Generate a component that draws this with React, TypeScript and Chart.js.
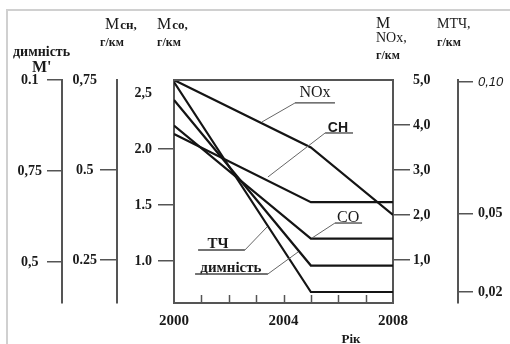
import React, { useEffect, useRef } from "react";
import { Chart, registerables } from "chart.js";

Chart.register(...registerables);

// ---------------- data ----------------
const years = [2000, 2005, 2008];
const noxValues = [5.0, 3.5, 2.0]; // M NOx, г/км
const chValues = [0.6, 0.411, 0.411]; // Mсн, г/км
const coValues = [2.21, 1.2, 1.2]; // Mco, г/км
const pmValues = [0.1, 0.02, 0.02]; // MТЧ, г/км
const smokeValues = [0.945, 0.49, 0.49]; // димність M'

const xLabelStep = 4;
const xMinorYears = [2001, 2002, 2003, 2004, 2005, 2006, 2007];

const smokeTicks = [0.5, 0.75, 1.0];
const smokeTickLabels = ["0,5", "0,75", "0.1"];
const chTicks = [0.25, 0.5, 0.75];
const chTickLabels = ["0.25", "0.5", "0,75"];
const coTicks = [1.0, 1.5, 2.0, 2.5];
const coTickLabels = ["1.0", "1.5", "2.0", "2,5"];
const noxTicks = [1, 2, 3, 4, 5];
const noxTickLabels = ["1,0", "2,0", "3,0", "4,0", "5,0"];
const pmTicks = [0.02, 0.05, 0.1];
const pmTickLabels = ["0,02", "0,05", "0,10"];

const SERIF = '"Liberation Serif", "DejaVu Serif", serif';
const SANS = '"Liberation Sans", "DejaVu Sans", sans-serif';

// series callouts, anchored in (year, Mco) data units
const callouts = [
  { text: "NOx", font: `16px ${SERIF}`, tx: 2005.15, ty: 2.5, u1: 2004.42, u2: 2005.88, uy: 2.411, end: "u1", lx: 2003.21, ly: 2.241 },
  { text: "CH", font: `bold 14px ${SANS}`, tx: 2005.99, ty: 2.187, u1: 2005.52, u2: 2006.54, uy: 2.143, end: "u1", lx: 2003.43, ly: 1.75 },
  { text: "CO", font: `16px ${SERIF}`, tx: 2006.36, ty: 1.384, u1: 2005.88, u2: 2006.87, uy: 1.339, end: "u1", lx: 2005.04, ly: 1.205 },
  { text: "ТЧ", font: `bold 15px ${SERIF}`, tx: 2001.61, ty: 1.152, u1: 2000.88, u2: 2002.59, uy: 1.098, end: "u2", lx: 2003.4, ly: 1.304 },
  { text: "димність", font: `bold 15px ${SERIF}`, tx: 2002.08, ty: 0.937, u1: 2000.77, u2: 2003.43, uy: 0.884, end: "u2", lx: 2004.53, ly: 1.08 },
];

const AXIS = "#555";

function yAxis(o: any) {
  return {
    type: "linear",
    position: o.position,
    weight: o.weight,
    min: o.min,
    max: o.max,
    afterBuildTicks: (s: any) => {
      s.ticks = o.ticks.map((v: number) => ({ value: v }));
    },
    afterFit: (s: any) => {
      s.width = o.width;
    },
    grid: {
      drawOnChartArea: false,
      drawTicks: true,
      tickLength: o.tickLength,
      lineWidth: 1.5,
      color: AXIS,
      tickColor: (c: any) =>
        c.tick && o.hidden.includes(c.tick.value) ? "rgba(0,0,0,0)" : AXIS,
    },
    border: { display: true, color: AXIS, width: 2 },
    ticks: {
      padding: o.padding,
      crossAlign: o.crossAlign,
      color: "#1a1a1a",
      font: o.font || { family: SERIF, size: 14, weight: "bold" },
      callback: (_v: any, i: number) => o.labels[i],
    },
  };
}

const decorPlugin = {
  id: "decor",
  afterDraw(chart: any) {
    const { ctx, chartArea, scales } = chart;
    const sx = scales.x;
    const sy = scales.yCO;
    ctx.save();
    // scan frame
    ctx.strokeStyle = "#d0d0d0";
    ctx.lineWidth = 2;
    ctx.beginPath();
    ctx.moveTo(7, 344);
    ctx.lineTo(7, 10);
    ctx.lineTo(510, 10);
    ctx.stroke();
    // top border of the plot box
    ctx.strokeStyle = AXIS;
    ctx.lineWidth = 2;
    ctx.beginPath();
    ctx.moveTo(chartArea.left - 1, chartArea.top);
    ctx.lineTo(chartArea.right + 1, chartArea.top);
    ctx.stroke();
    // inward year ticks
    ctx.lineWidth = 1.5;
    for (const yr of xMinorYears) {
      const px = Math.round(sx.getPixelForValue(yr)) + 0.5;
      ctx.beginPath();
      ctx.moveTo(px, chartArea.bottom);
      ctx.lineTo(px, chartArea.bottom - 8);
      ctx.stroke();
    }
    // callouts
    ctx.fillStyle = "#1a1a1a";
    ctx.textAlign = "center";
    ctx.textBaseline = "middle";
    for (const a of callouts) {
      ctx.font = a.font;
      ctx.fillText(a.text, sx.getPixelForValue(a.tx), sy.getPixelForValue(a.ty));
      const uy = sy.getPixelForValue(a.uy);
      const x1 = sx.getPixelForValue(a.u1);
      const x2 = sx.getPixelForValue(a.u2);
      ctx.strokeStyle = "#444";
      ctx.lineWidth = 1.3;
      ctx.beginPath();
      ctx.moveTo(x1, uy);
      ctx.lineTo(x2, uy);
      ctx.stroke();
      ctx.strokeStyle = "#666";
      ctx.lineWidth = 1;
      ctx.beginPath();
      ctx.moveTo(a.end === "u1" ? x1 : x2, uy);
      ctx.lineTo(sx.getPixelForValue(a.lx), sy.getPixelForValue(a.ly));
      ctx.stroke();
    }
    // axis titles
    ctx.textAlign = "left";
    ctx.textBaseline = "alphabetic";
    const txt = (s: string, x: number, y: number, font: string) => {
      ctx.font = font;
      ctx.fillText(s, x, y);
      return x + ctx.measureText(s).width;
    };
    const big = `16px ${SERIF}`;
    const small = `bold 13px ${SERIF}`;
    const unit = `bold 12px ${SERIF}`;
    txt("димність", 13, 56, `bold 14px ${SERIF}`);
    txt("M'", 32, 72, `bold 16px ${SERIF}`);
    let e = txt("M", 105, 29, big);
    txt("сн,", e + 1, 29, small);
    txt("г/км", 100, 46, unit);
    e = txt("M", 157, 29, big);
    txt("co,", e + 1, 29, small);
    txt("г/км", 157, 46, unit);
    txt("M", 376, 28, big);
    txt("NOx,", 376, 42, `14px ${SERIF}`);
    txt("г/км", 376, 59, unit);
    txt("MTЧ,", 437, 28, `14px ${SERIF}`);
    txt("г/км", 437, 46, unit);
    ctx.textAlign = "center";
    ctx.textBaseline = "top";
    ctx.font = `bold 13px ${SERIF}`;
    ctx.fillText("Рік", 351, 333);
    ctx.restore();
  },
};

export default function App() {
  const ref = useRef<HTMLCanvasElement | null>(null);
  useEffect(() => {
    if (!ref.current) return;
    const mk = (label: string, vals: number[], axis: string) => ({
      label,
      data: years.map((x, i) => ({ x, y: vals[i] })),
      yAxisID: axis,
      borderColor: "#141414",
      borderWidth: 2.2,
      pointRadius: 0,
      fill: false,
      tension: 0,
    });
    const chart = new Chart(ref.current, {
      type: "line",
      data: {
        datasets: [
          mk("NOx", noxValues, "yNOx"),
          mk("CH", chValues, "yCH"),
          mk("CO", coValues, "yCO"),
          mk("ТЧ", pmValues, "yPM"),
          mk("димність", smokeValues, "ySmoke"),
        ],
      },
      options: {
        animation: false,
        responsive: false,
        layout: { padding: { top: 80, left: 0, right: 0, bottom: 0 } },
        plugins: { legend: { display: false }, tooltip: { enabled: false } },
        scales: {
          x: {
            type: "linear",
            position: "bottom",
            min: 2000,
            max: 2008,
            afterFit: (s: any) => {
              s.height = 41;
            },
            grid: { drawOnChartArea: false, drawTicks: false },
            border: { display: true, color: AXIS, width: 2 },
            ticks: {
              stepSize: xLabelStep,
              padding: 9,
              color: "#1a1a1a",
              font: { family: SERIF, size: 15, weight: "bold" },
              callback: (v: any) => String(v),
            },
          },
          ySmoke: yAxis({ position: "left", weight: 2, min: 0.387, max: 1.0, ticks: smokeTicks, labels: smokeTickLabels, width: 62, tickLength: 15, hidden: [], padding: 5, crossAlign: "center" }),
          yCH: yAxis({ position: "left", weight: 1, min: 0.131, max: 0.75, ticks: chTicks, labels: chTickLabels, width: 55, tickLength: 17, hidden: [0.75], padding: 3, crossAlign: "center" }),
          yCO: yAxis({ position: "left", weight: 0, min: 0.625, max: 2.616, ticks: coTicks, labels: coTickLabels, width: 57, tickLength: 16, hidden: [2.5], padding: 6, crossAlign: "near" }),
          yNOx: yAxis({ position: "right", weight: 0, min: 0.044, max: 5.0, ticks: noxTicks, labels: noxTickLabels, width: 65, tickLength: 17, hidden: [5], padding: 3, crossAlign: "near" }),
          yPM: yAxis({
            position: "right", weight: 1, min: 0.0158, max: 0.1008, ticks: pmTicks, labels: pmTickLabels, width: 52, tickLength: 15, hidden: [], padding: 5, crossAlign: "near",
            font: (c: any) =>
              c.tick && c.tick.value === 0.1
                ? { family: SANS, size: 13, style: "italic" }
                : { family: SERIF, size: 14, weight: "bold" },
          }),
        },
      } as any,
      plugins: [decorPlugin],
    });
    return () => chart.destroy();
  }, []);
  return (
    <div style={{ position: "absolute", left: 0, top: 0, width: 510, height: 344, background: "#fff" }}>
      <canvas ref={ref} width={510} height={344} style={{ display: "block" }} />
    </div>
  );
}
